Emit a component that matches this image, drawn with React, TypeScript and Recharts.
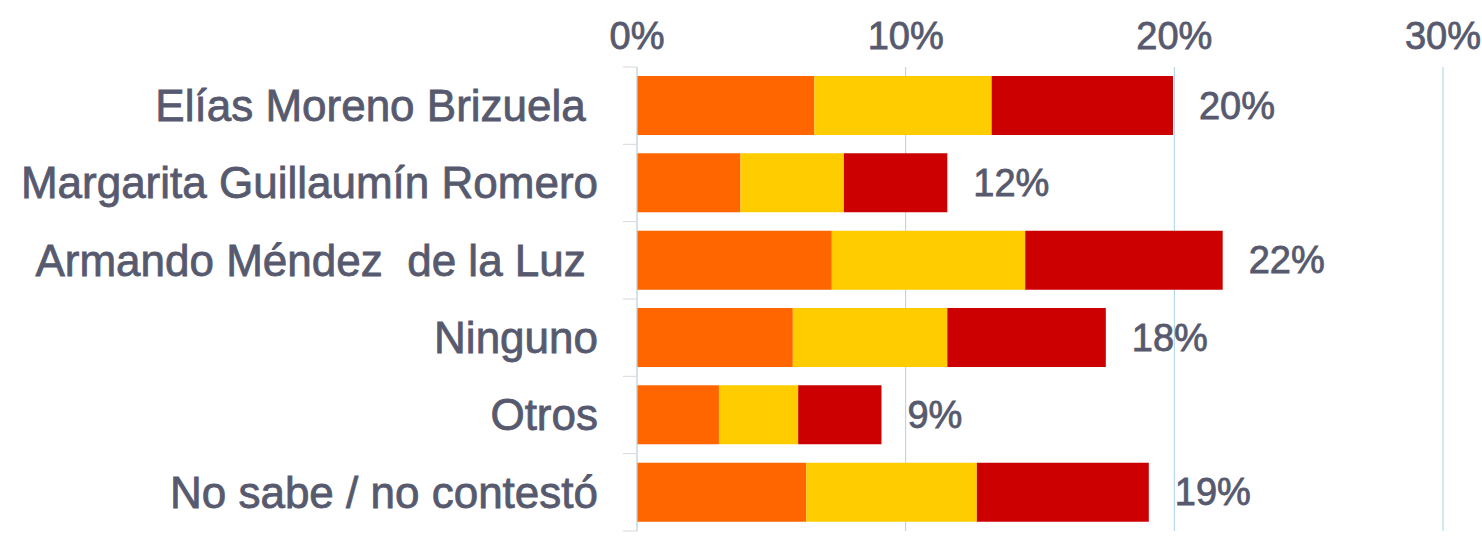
import { BarChart, Bar, XAxis, YAxis, CartesianGrid, LabelList } from 'recharts';

const categories = [
  'Elías Moreno Brizuela ',
  'Margarita Guillaumín Romero',
  'Armando Méndez  de la Luz ',
  'Ninguno',
  'Otros',
  'No sabe / no contestó',
];
const orangePart = [6.6, 3.85, 7.25, 5.8, 3.05, 6.3];
const yellowPart = [6.6, 3.85, 7.2, 5.75, 2.95, 6.35];
const redPart = [6.75, 3.85, 7.35, 5.9, 3.1, 6.4];
const totalLabels = ['20%', '12%', '22%', '18%', '9%', '19%'];
const xTicks = [0, 10, 20, 30];

const data = categories.map((name, i) => ({
  name,
  a: orangePart[i],
  b: yellowPart[i],
  c: redPart[i],
  total: totalLabels[i],
}));

const W = 1482;
const H = 537;
const TOP = 67;
const BOTTOM = 6;
const LEFT = 637;
const band = (H - TOP - BOTTOM) / categories.length;
const textColor = '#575a6e';
const font = '"Liberation Sans", Arial, sans-serif';
// the reference text looks a bit heavier than regular weight
const textStyle = { stroke: textColor, strokeWidth: 0.8, whiteSpace: 'pre' as const };

const XTick = ({ x, y, payload }: any) => (
  <text x={x} y={y} dy={-10} textAnchor="middle" fontSize={38} fill={textColor} fontFamily={font} style={textStyle}>
    {payload.value}%
  </text>
);

const YTick = ({ y, payload, index }: any) => (
  <g>
    <text
      x={598}
      y={y}
      dy="0.35em"
      textAnchor="end"
      fontSize={44}
      fill={textColor}
      fontFamily={font}
      style={textStyle}
    >
      {payload.value}
    </text>
    <line x1={LEFT - 14} x2={LEFT} y1={y - band / 2} y2={y - band / 2} stroke="#d9d9d9" />
    {index === categories.length - 1 && (
      <line x1={LEFT - 14} x2={LEFT} y1={y + band / 2} y2={y + band / 2} stroke="#d9d9d9" />
    )}
  </g>
);

const TotalLabel = ({ x, y, width, height, value }: any) => (
  <text
    x={x + width + 26}
    y={y + height / 2}
    dy="0.35em"
    fontSize={38}
    fill={textColor}
    fontFamily={font}
    style={textStyle}
  >
    {value}
  </text>
);

export default function App() {
  return (
    <div style={{ position: 'absolute', left: 0, top: 0, width: W, height: H, background: '#fff' }}>
      <BarChart
        width={W}
        height={H}
        layout="vertical"
        data={data}
        margin={{ top: 0, right: W - 1443, bottom: BOTTOM, left: 0 }}
      >
        <CartesianGrid horizontal={false} stroke="#a9d2e6" />
        <XAxis
          type="number"
          orientation="top"
          height={TOP}
          domain={[0, 30]}
          ticks={xTicks}
          axisLine={false}
          tickLine={false}
          tick={<XTick />}
        />
        <YAxis
          type="category"
          dataKey="name"
          width={LEFT}
          axisLine={{ stroke: '#d9d9d9' }}
          tickLine={false}
          tick={<YTick />}
          interval={0}
        />
        <Bar dataKey="a" stackId="s" fill="#ff6600" barSize={59} isAnimationActive={false} />
        <Bar dataKey="b" stackId="s" fill="#ffcc00" barSize={59} isAnimationActive={false} />
        <Bar dataKey="c" stackId="s" fill="#cc0000" barSize={59} isAnimationActive={false}>
          <LabelList dataKey="total" content={<TotalLabel />} />
        </Bar>
      </BarChart>
    </div>
  );
}
